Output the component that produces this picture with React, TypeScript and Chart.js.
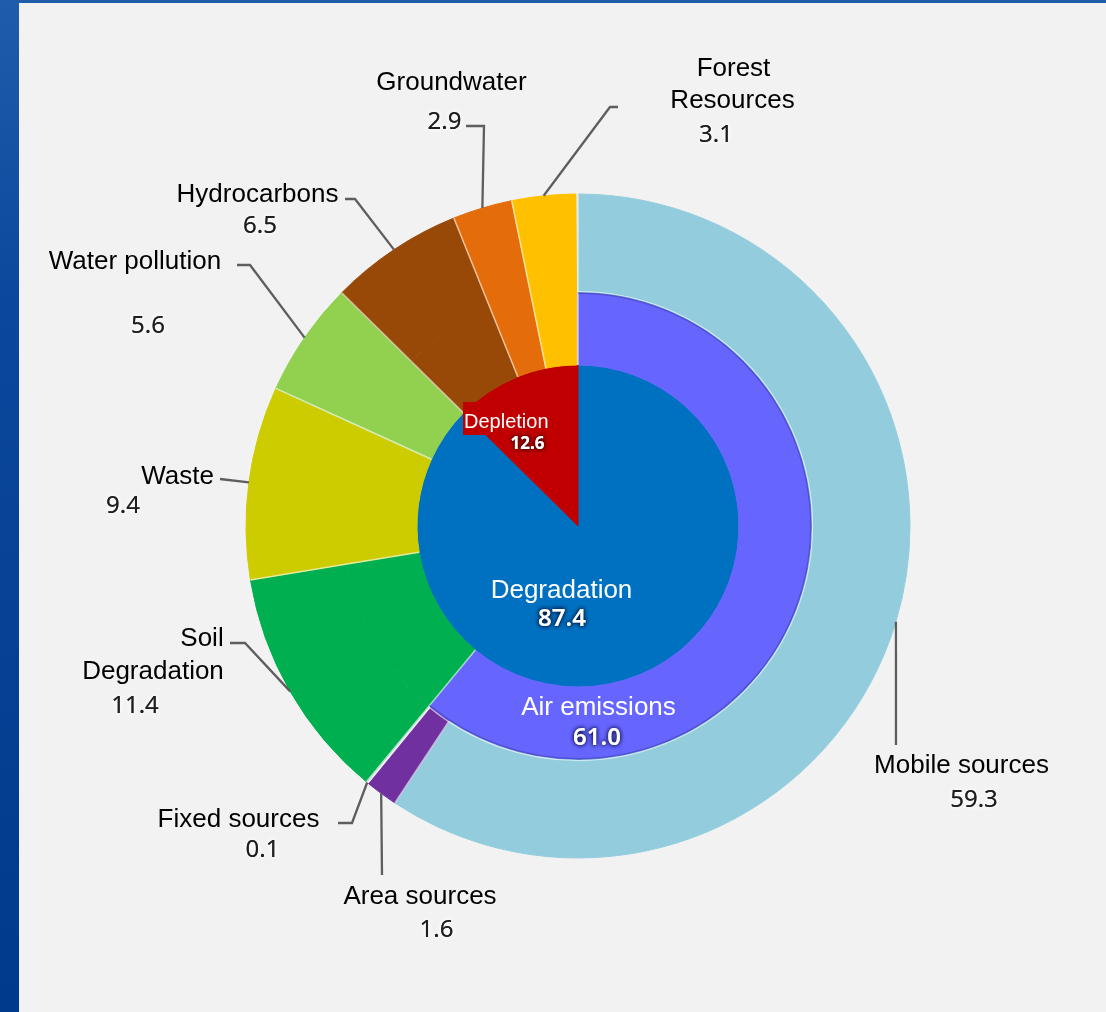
import React, { useEffect, useRef } from 'react';
import { Chart, registerables } from 'chart.js';

Chart.register(...registerables);

// ---------------- data ----------------
const innerCategories = ['Degradation', 'Depletion'];
const innerValues = [87.4, 12.6];

const middleCategories = ['Air emissions', 'Soil Degradation', 'Waste', 'Water pollution', 'Hydrocarbons', 'Groundwater', 'Forest Resources'];
const middleValues = [61.0, 11.4, 9.4, 5.6, 6.5, 2.9, 3.1];

const outerCategories = ['Mobile sources', 'Area sources', 'Fixed sources', 'Soil Degradation', 'Waste', 'Water pollution', 'Hydrocarbons', 'Groundwater', 'Forest Resources'];
const outerValues = [59.3, 1.6, 0.1, 11.4, 9.4, 5.6, 6.5, 2.9, 3.1];

// ---------------- styles ----------------
const colors: Record<string, string> = {
  'Degradation': '#0070C0',
  'Depletion': '#C00000',
  'Air emissions': '#6666FF',
  'Mobile sources': '#93CDDD',
  'Area sources': '#7030A0',
  'Fixed sources': '#E6DEEE',
  'Soil Degradation': '#00B050',
  'Waste': '#CCCC00',
  'Water pollution': '#92D050',
  'Hydrocarbons': '#984807',
  'Groundwater': '#E46C0A',
  'Forest Resources': '#FFC000',
};

const LABEL_FONT = "26px 'Liberation Sans', Arial, sans-serif";
const VALUE_FONT = "24px 'Noto Sans', 'Open Sans', sans-serif";

// positions relative to the chart centre (layout only)
type Line = [string, number, number];
type Callout = { lines: Line[]; value: [number, number]; path: [number, number][] };
const calloutLayout: Record<string, Callout> = {
  'Mobile sources': { lines: [['Mobile sources', 383.5, 247]], value: [396, 281], path: [[318, 219]] },
  'Area sources': { lines: [['Area sources', -158, 378]], value: [-141.5, 411], path: [[-196, 349]] },
  'Fixed sources': { lines: [['Fixed sources', -339.5, 301]], value: [-315.5, 331], path: [[-226, 297], [-240, 297]] },
  'Soil Degradation': { lines: [['Soil', -376, 120], ['Degradation', -425, 153]], value: [-443, 187], path: [[-333, 117], [-348, 117]] },
  'Waste': { lines: [['Waste', -400.5, -42]], value: [-455, -13], path: [[-358, -47]] },
  'Water pollution': { lines: [['Water pollution', -443, -257]], value: [-430, -193], path: [[-328, -261], [-341, -261]] },
  'Hydrocarbons': { lines: [['Hydrocarbons', -320.5, -324]], value: [-318, -293], path: [[-223, -327], [-233, -327]] },
  'Groundwater': { lines: [['Groundwater', -126.5, -436]], value: [-133.5, -397], path: [[-94, -400], [-112, -400]] },
  'Forest Resources': { lines: [['Forest', 155.5, -450], ['Resources', 154.5, -418]], value: [138, -384], path: [[32, -419], [40, -419]] },
};

const sum = (a: number[]) => a.reduce((s, v) => s + v, 0);
const ringSweep = (vals: number[]) => (sum(vals) / sum(innerValues)) * 360;
const fmt = (v: number) => v.toFixed(1);

function drawGlowText(ctx: CanvasRenderingContext2D, text: string, x: number, y: number, font: string, fill: string, glow: string, blur: number) {
  ctx.save();
  ctx.font = font;
  ctx.textAlign = 'center';
  ctx.textBaseline = 'alphabetic';
  ctx.shadowColor = glow;
  ctx.shadowBlur = blur;
  ctx.fillStyle = fill;
  ctx.fillText(text, x, y);
  ctx.fillText(text, x, y);
  ctx.restore();
}

const calloutPlugin = {
  id: 'callouts',
  afterDatasetsDraw(chart: any) {
    const ctx: CanvasRenderingContext2D = chart.ctx;
    const outerArcs = chart.getDatasetMeta(0).data as any[];
    const middleArcs = chart.getDatasetMeta(1).data as any[];
    const cx = outerArcs[0].x;
    const cy = outerArcs[0].y;

    // light separators between segments
    ctx.save();
    ctx.strokeStyle = 'rgba(255,255,255,0.6)';
    ctx.lineWidth = 1.5;
    [outerArcs, middleArcs].forEach((arcs) => {
      arcs.forEach((arc) => {
        const p = arc.getProps(['startAngle', 'innerRadius', 'outerRadius'], true);
        ctx.beginPath();
        ctx.moveTo(cx + Math.cos(p.startAngle) * p.innerRadius, cy + Math.sin(p.startAngle) * p.innerRadius);
        ctx.lineTo(cx + Math.cos(p.startAngle) * p.outerRadius, cy + Math.sin(p.startAngle) * p.outerRadius);
        ctx.stroke();
      });
    });
    const air = middleArcs[0].getProps(['startAngle', 'endAngle', 'outerRadius'], true);
    ctx.strokeStyle = 'rgba(40,40,140,0.35)';
    ctx.lineWidth = 2;
    ctx.beginPath();
    ctx.arc(cx, cy, air.outerRadius - 1, air.startAngle, air.endAngle);
    ctx.stroke();
    ctx.strokeStyle = 'rgba(255,255,255,0.6)';
    ctx.lineWidth = 1.2;
    ctx.beginPath();
    ctx.arc(cx, cy, air.outerRadius + 0.5, air.startAngle, air.endAngle);
    ctx.stroke();
    ctx.restore();

    // outer callouts
    outerCategories.forEach((name, i) => {
      const lay = calloutLayout[name];
      if (!lay) return;
      const p = outerArcs[i].getProps(['startAngle', 'endAngle', 'outerRadius'], true);
      const mid = (p.startAngle + p.endAngle) / 2;
      const sx = cx + Math.cos(mid) * p.outerRadius;
      const sy = cy + Math.sin(mid) * p.outerRadius;
      ctx.save();
      ctx.strokeStyle = '#5E5E5E';
      ctx.lineWidth = 2.3;
      ctx.lineJoin = 'miter';
      ctx.beginPath();
      ctx.moveTo(sx, sy);
      lay.path.forEach(([dx, dy]) => ctx.lineTo(cx + dx, cy + dy));
      ctx.stroke();
      ctx.restore();

      ctx.save();
      ctx.font = LABEL_FONT;
      ctx.fillStyle = '#000000';
      ctx.textAlign = 'center';
      ctx.textBaseline = 'alphabetic';
      lay.lines.forEach(([t, dx, dy]) => ctx.fillText(t, cx + dx, cy + dy));
      ctx.restore();

      drawGlowText(ctx, fmt(outerValues[i]), cx + lay.value[0], cy + lay.value[1], VALUE_FONT, '#1E1E1E', 'rgba(255,255,255,1)', 5);
    });

    // inner labels
    const degIdx = innerCategories.indexOf('Degradation');
    const depIdx = innerCategories.indexOf('Depletion');
    const airIdx = middleCategories.indexOf('Air emissions');

    ctx.save();
    ctx.font = LABEL_FONT;
    ctx.fillStyle = '#FFFFFF';
    ctx.textAlign = 'center';
    ctx.fillText(innerCategories[degIdx], cx - 16.5, cy + 72);
    ctx.fillText(middleCategories[airIdx], cx + 20.5, cy + 189);
    ctx.restore();
    drawGlowText(ctx, fmt(innerValues[degIdx]), cx - 16, cy + 100, "600 24px 'Noto Sans', sans-serif", '#FFFFFF', 'rgba(0,20,60,1)', 4);
    drawGlowText(ctx, fmt(middleValues[airIdx]), cx + 19, cy + 219, "600 24px 'Noto Sans', sans-serif", '#FFFFFF', 'rgba(20,20,80,1)', 4);

    ctx.save();
    ctx.fillStyle = colors['Depletion'];
    ctx.fillRect(cx - 115, cy - 124, 114, 33);
    ctx.font = "20px 'Liberation Sans', Arial, sans-serif";
    ctx.fillStyle = '#FFFFFF';
    ctx.textAlign = 'left';
    ctx.fillText(innerCategories[depIdx], cx - 114, cy - 98);
    ctx.restore();
    drawGlowText(ctx, fmt(innerValues[depIdx]), cx - 50.5, cy - 77, "bold 17px 'Noto Sans', sans-serif", '#FFFFFF', 'rgba(60,0,0,1)', 4);
  },
};

export default function App() {
  const ref = useRef<HTMLCanvasElement>(null);

  useEffect(() => {
    const canvas = ref.current;
    if (!canvas) return;
    const outerColors = outerCategories.map((c) => colors[c]);
    const middleColors = middleCategories.map((c) => colors[c]);
    const innerColors = innerCategories.map((c) => colors[c]);
    const chart = new Chart(canvas, {
      type: 'doughnut',
      data: {
        labels: outerCategories,
        datasets: [
          { data: outerValues, backgroundColor: outerColors, borderColor: outerColors, borderWidth: 1, weight: 98, circumference: ringSweep(outerValues) } as any,
          { data: middleValues, backgroundColor: middleColors, borderColor: middleColors, borderWidth: 1, weight: 73, circumference: ringSweep(middleValues) } as any,
          { data: innerValues, backgroundColor: innerColors, borderColor: innerColors, borderWidth: 1, weight: 161 } as any,
        ],
      },
      options: {
        responsive: false,
        animation: false,
        cutout: 0,
        radius: 332,
        events: [],
        layout: { padding: { left: 50, top: 40, right: 0, bottom: 0 } },
        plugins: { legend: { display: false }, tooltip: { enabled: false } },
      } as any,
      plugins: [calloutPlugin],
    });
    return () => chart.destroy();
  }, []);

  return (
    <div style={{ position: 'absolute', left: 0, top: 0, width: 1106, height: 1012, overflow: 'hidden', background: 'linear-gradient(180deg, #1f5dab 0%, #0b479c 30%, #003a8c 100%)' }}>
      <div style={{ position: 'absolute', left: 19, top: 3, right: 0, bottom: 0, background: '#F2F2F2' }} />
      <canvas ref={ref} width={1106} height={1012} style={{ position: 'absolute', left: 0, top: 0 }} />
    </div>
  );
}
